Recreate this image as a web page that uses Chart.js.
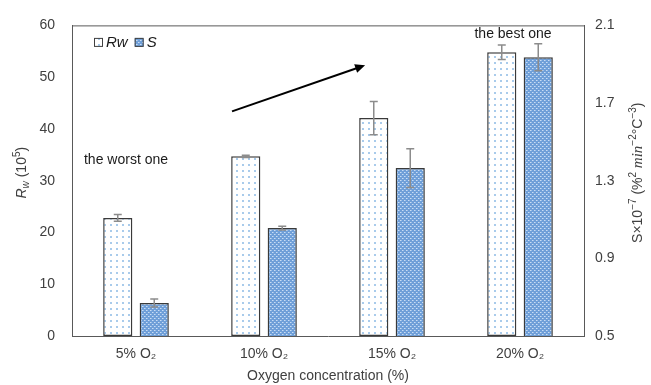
<!DOCTYPE html>
<html>
<head>
<meta charset="utf-8">
<script src="https://cdn.jsdelivr.net/npm/chart.js@4.4.0/dist/chart.umd.min.js"></script>
<style>
  body { margin: 0; background: #fff; }
  #wrap { width: 651px; height: 385px; }
</style>
</head>
<body>
<div id="wrap"><canvas id="oxyChart"></canvas></div>
<script>
// Data
const categories = ['5% O\u2082', '10% O\u2082', '15% O\u2082', '20% O\u2082'];
const rwValues = [22.8, 34.7, 42.1, 54.8];
const rwErr = [0.65, 0.2, 3.2, 1.4];
const sValues = [0.67, 1.056, 1.365, 1.936];
const sErr = [0.02, 0.01, 0.1, 0.07];
const leftTicks = [0, 10, 20, 30, 40, 50, 60];
const rightTicks = [0.5, 0.9, 1.3, 1.7, 2.1];

const FONT = '"Liberation Sans", Arial, sans-serif';
const TEXT = '#404040';

// Fill patterns for the bars
function dotPattern() {
  const c = document.createElement('canvas');
  c.width = 6; c.height = 6;
  const g = c.getContext('2d');
  g.fillStyle = '#ffffff';
  g.fillRect(0, 0, 6, 6);
  g.fillStyle = '#a9cbeb';
  g.fillRect(2, 2, 2, 2);
  return g.createPattern(c, 'repeat');
}
function crossPattern() {
  const c = document.createElement('canvas');
  c.width = 4; c.height = 4;
  const g = c.getContext('2d');
  g.fillStyle = '#6f9fd8';
  g.fillRect(0, 0, 4, 4);
  g.fillStyle = '#c9ddf3';
  g.fillRect(0, 0, 1, 1);
  g.fillRect(2, 2, 1, 1);
  g.fillStyle = '#9ec0ea';
  g.fillRect(1, 0, 1, 1);
  g.fillRect(3, 2, 1, 1);
  return g.createPattern(c, 'repeat');
}
const rwFill = dotPattern();
const sFill = crossPattern();

// Draws text runs (with italic, sub and superscripts) along a line
function drawRuns(ctx, runs, x, y, rotate) {
  ctx.save();
  ctx.translate(x, y);
  if (rotate) ctx.rotate(-Math.PI / 2);
  let total = 0;
  runs.forEach(r => { ctx.font = r.font; total += ctx.measureText(r.t).width; });
  let cx = -total / 2;
  ctx.textBaseline = 'middle';
  ctx.textAlign = 'left';
  ctx.fillStyle = TEXT;
  runs.forEach(r => {
    ctx.font = r.font;
    ctx.fillText(r.t, cx, r.dy || 0);
    cx += ctx.measureText(r.t).width;
  });
  ctx.restore();
}

const extras = {
  id: 'extras',
  afterDatasetsDraw(chart) {
    const ctx = chart.ctx;
    const area = chart.chartArea;
    const x = chart.scales.x, y = chart.scales.y, y1 = chart.scales.y1;

    // top frame line
    ctx.save();
    ctx.strokeStyle = '#595959';
    ctx.lineWidth = 1;
    ctx.beginPath();
    ctx.moveTo(area.left, area.top + 0.5);
    ctx.lineTo(area.right, area.top + 0.5);
    ctx.stroke();
    ctx.restore();

    // error bars
    const sets = [[0, rwErr, y], [1, sErr, y1]];
    ctx.save();
    ctx.strokeStyle = '#8c8c8c';
    ctx.lineWidth = 1.5;
    sets.forEach(([di, errs, scale]) => {
      const meta = chart.getDatasetMeta(di);
      const vals = chart.data.datasets[di].data;
      meta.data.forEach((bar, i) => {
        const top = scale.getPixelForValue(vals[i] + errs[i]);
        const bot = scale.getPixelForValue(vals[i] - errs[i]);
        ctx.beginPath();
        ctx.moveTo(bar.x, top); ctx.lineTo(bar.x, bot);
        ctx.moveTo(bar.x - 4, top); ctx.lineTo(bar.x + 4, top);
        ctx.moveTo(bar.x - 4, bot); ctx.lineTo(bar.x + 4, bot);
        ctx.stroke();
      });
    });
    ctx.restore();

    // annotations
    ctx.save();
    ctx.fillStyle = '#1a1a1a';
    ctx.font = '14px ' + FONT;
    ctx.textAlign = 'center';
    ctx.textBaseline = 'middle';
    ctx.fillText('the worst one', x.getPixelForValue(0) - 10, y.getPixelForValue(34));
    ctx.fillText('the best one', x.getPixelForValue(3) - 7, y.getPixelForValue(58.4));

    // arrow
    const ax0 = x.getPixelForValue(0.75), ay0 = y.getPixelForValue(43.4);
    const ax1 = x.getPixelForValue(1.79), ay1 = y.getPixelForValue(52.3);
    const ang = Math.atan2(ay1 - ay0, ax1 - ax0);
    ctx.strokeStyle = '#000';
    ctx.fillStyle = '#000';
    ctx.lineWidth = 2;
    ctx.beginPath();
    ctx.moveTo(ax0, ay0);
    ctx.lineTo(ax1 - 6 * Math.cos(ang), ay1 - 6 * Math.sin(ang));
    ctx.stroke();
    ctx.beginPath();
    ctx.moveTo(ax1, ay1);
    ctx.lineTo(ax1 - 10 * Math.cos(ang) + 4.5 * Math.sin(ang), ay1 - 10 * Math.sin(ang) - 4.5 * Math.cos(ang));
    ctx.lineTo(ax1 - 10 * Math.cos(ang) - 4.5 * Math.sin(ang), ay1 - 10 * Math.sin(ang) + 4.5 * Math.cos(ang));
    ctx.closePath();
    ctx.fill();
    ctx.restore();

    // legend inside the plot
    ctx.save();
    let lx = area.left + 22;
    const ly = area.top + 17;
    chart.data.datasets.forEach(ds => {
      ctx.fillStyle = ds.backgroundColor;
      ctx.fillRect(lx, ly - 4.5, 9, 9);
      ctx.strokeStyle = '#404040';
      ctx.lineWidth = 1;
      ctx.strokeRect(lx + 0.5, ly - 4, 8, 8);
      ctx.fillStyle = '#1a1a1a';
      ctx.font = 'italic 15px ' + FONT;
      ctx.textAlign = 'left';
      ctx.textBaseline = 'middle';
      ctx.fillText(ds.label, lx + 12, ly);
      lx += 12 + ctx.measureText(ds.label).width + 7;
    });
    ctx.restore();

    // axis titles
    const midY = (area.top + area.bottom) / 2;
    const n = '14px ' + FONT, it = 'italic 14px ' + FONT;
    const sm = '10px ' + FONT, smi = 'italic 10px ' + FONT;
    drawRuns(ctx, [
      { t: 'R', font: it }, { t: 'w', font: smi, dy: 4 },
      { t: ' (10', font: n }, { t: '5', font: sm, dy: -5 }, { t: ')', font: n }
    ], 22, midY - 8, true);
    drawRuns(ctx, [
      { t: 'S\u00d710', font: n }, { t: '\u22127', font: sm, dy: -5 },
      { t: ' (%', font: n }, { t: '2', font: sm, dy: -5 },
      { t: ' min', font: 'italic 15px "Liberation Serif", serif' },
      { t: '\u22122', font: sm, dy: -5 }, { t: '\u00b0C', font: n },
      { t: '\u22123', font: sm, dy: -5 }, { t: ')', font: n }
    ], 638, midY - 8, true);
  }
};

new Chart(document.getElementById('oxyChart'), {
  type: 'bar',
  data: {
    labels: categories,
    datasets: [
      { label: 'Rw', data: rwValues, yAxisID: 'y', backgroundColor: rwFill,
        borderColor: '#3a3a3a', borderWidth: 1.5, borderSkipped: false },
      { label: 'S', data: sValues, yAxisID: 'y1', backgroundColor: sFill,
        borderColor: '#3a3a3a', borderWidth: 1.5, borderSkipped: false }
    ]
  },
  options: {
    responsive: true,
    maintainAspectRatio: false,
    animation: false,
    layout: { padding: { top: 19, left: 0, right: 0, bottom: 0 } },
    datasets: { bar: { categoryPercentage: 0.57, barPercentage: 0.8 } },
    plugins: { legend: { display: false }, tooltip: { enabled: false } },
    scales: {
      x: {
        grid: { display: false, drawTicks: false },
        border: { display: true, color: '#595959', width: 1 },
        ticks: { color: TEXT, font: { family: FONT, size: 14 }, padding: 10 },
        title: { display: true, text: 'Oxygen concentration (%)', color: TEXT,
                 font: { family: FONT, size: 14 }, padding: { top: 4, bottom: 0 } },
        afterFit(s) { s.height = 49; }
      },
      y: {
        position: 'left', min: 0, max: 60,
        grid: { display: false, drawTicks: false },
        border: { display: true, color: '#595959', width: 1 },
        afterBuildTicks(s) { s.ticks = leftTicks.map(v => ({ value: v })); },
        ticks: { color: TEXT, font: { family: FONT, size: 14 }, padding: 17 },
        afterFit(s) { s.width = 72; }
      },
      y1: {
        position: 'right', min: 0.5, max: 2.1,
        grid: { display: false, drawTicks: false },
        border: { display: true, color: '#595959', width: 1 },
        afterBuildTicks(s) { s.ticks = rightTicks.map(v => ({ value: v })); },
        ticks: { color: TEXT, font: { family: FONT, size: 14 }, padding: 11,
                 callback: v => Number(v).toFixed(1) },
        afterFit(s) { s.width = 67; }
      }
    }
  },
  plugins: [extras]
});
</script>
</body>
</html>
